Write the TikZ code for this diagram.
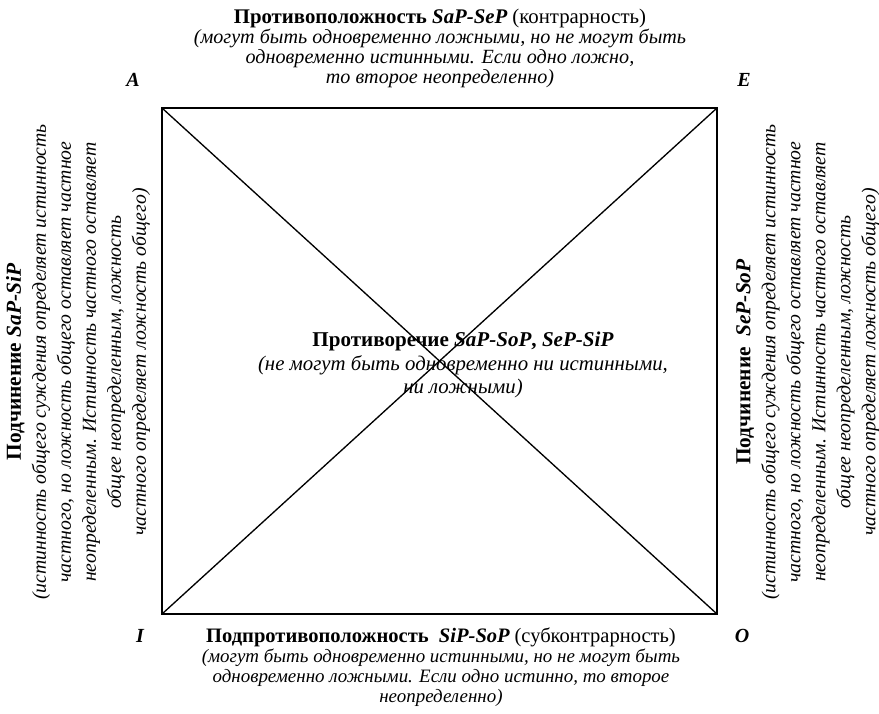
\documentclass[tikz,border=0pt]{standalone}
\usepackage{fontspec}
\setmainfont{Liberation Serif}
\usetikzlibrary{positioning}
\newcommand{\vertexletter}[4]{
  \node[letter] (#1) at (#2,#3) {#4};
}
\newcommand{\headline}[2]{{\fontsize{#1}{15}\selectfont\bfseries #2}}
\tikzset{
  side/.style     = {line width=1.3pt},
  diag/.style     = {line width=1pt},
  caption/.style  = {align=center, inner sep=0pt,
                     font=\fontsize{15.1}{15}\selectfont},
  sidecap/.style  = {align=center, inner sep=0pt, rotate=90,
                     font=\fontsize{14.8}{18.75}\selectfont},
  letter/.style   = {inner sep=0pt,
                     font=\fontsize{15}{16}\selectfont\bfseries\itshape}
}

\begin{document}
\begin{tikzpicture}[x=0.75pt,y=-0.75pt]
  \useasboundingbox (0,0) rectangle (879,714);
  \coordinate (A) at (162,108);
  \coordinate (E) at (717,108);
  \coordinate (I) at (162,614);
  \coordinate (O) at (717,614);
  \draw[side] (A) -- (E) -- (O) -- (I) -- cycle;
  \draw[diag] (A) -- (O);
  \draw[diag] (E) -- (I);
  \vertexletter{labA}{133}{80}{A}
  \vertexletter{labE}{744}{80}{E}
  \vertexletter{labI}{140}{636}{I}
  \vertexletter{labO}{742}{636}{O}
  \node[caption] (contrary) at (440,48) {%
    \headline{15.6}{Противоположность \textit{SaP-SeP}} {\fontsize{15.6}{15}\selectfont(контрарность)}\\
    \textit{(могут быть одновременно ложными, но не могут быть}\\
    \textit{одновременно истинными. Если одно ложно,}\\
    \textit{то второе неопределенно)}};
  \node[caption, font=\fontsize{14.2}{15}\selectfont] (subcontrary) at (441,667) {%
    \headline{15.4}{Подпротивоположность \ \textit{SiP-SoP}} {\fontsize{15.4}{15}\selectfont(субконтрарность)}\\
    \textit{(могут быть одновременно истинными, но не могут быть}\\
    \textit{одновременно ложными. Если одно истинно, то второе}\\
    \textit{неопределенно)}};
  \node[caption, font=\fontsize{15.6}{17.5}\selectfont] (contradiction) at (463,365) {%
    {\fontsize{15.8}{17.5}\selectfont\bfseries Противоречие \textit{SaP-SoP}, \textit{SeP-SiP}}\\
    \textit{(не могут быть одновременно ни истинными,}\\
    \textit{ни ложными)}};
  \node[sidecap] (subalterA) at (78,362) {%
    {\fontsize{16}{18.75}\selectfont\bfseries Подчинение \textit{SaP-SiP}}\\
    \textit{(истинность общего суждения определяет истинность}\\
    \textit{частного, но ложность общего оставляет частное}\\
    \textit{неопределенным. Истинность частного оставляет}\\
    \textit{общее неопределенным, ложность}\\
    \textit{частного определяет ложность общего)}};
  \node[sidecap] (subalterE) at (808,362) {%
    {\fontsize{16}{18.75}\selectfont\bfseries Подчинение \ \textit{SeP-SoP}}\\
    \textit{(истинность общего суждения определяет истинность}\\
    \textit{частного, но ложность общего оставляет частное}\\
    \textit{неопределенным. Истинность частного оставляет}\\
    \textit{общее неопределенным, ложность}\\
    \textit{частного определяет ложность общего)}};
\end{tikzpicture}
\end{document}
